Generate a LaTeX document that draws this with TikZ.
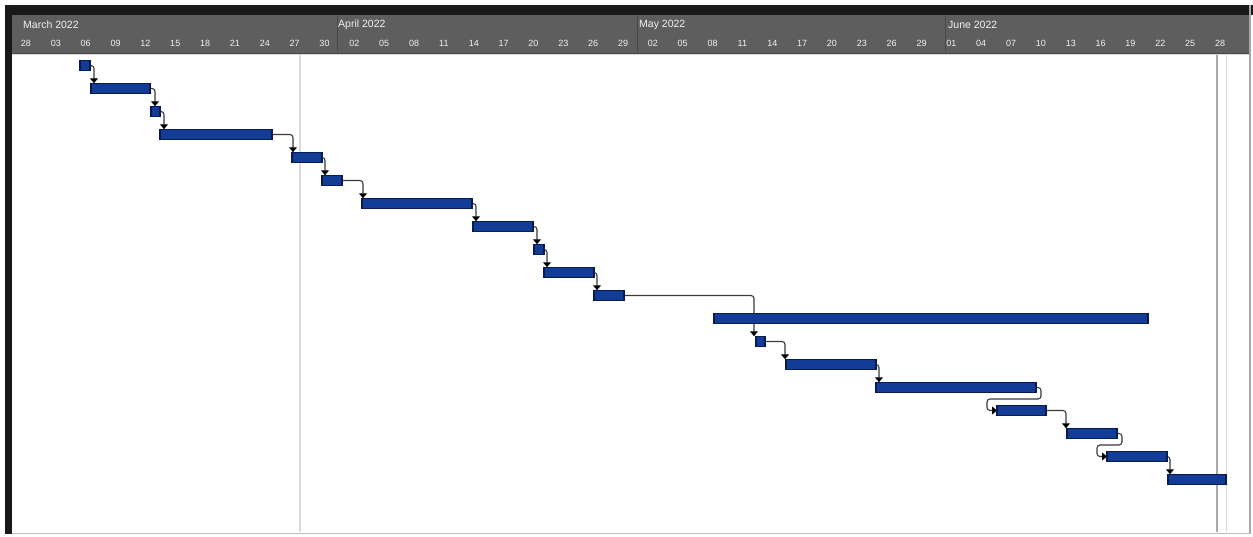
\documentclass[tikz,border=0pt]{standalone}
\usepackage{fontspec}
\setmainfont{Liberation Sans}
\usetikzlibrary{arrows.meta}
\pgfdeclarelayer{bg}
\pgfsetlayers{bg,main}
\definecolor{hdr}{HTML}{5E5E5E}
\definecolor{hdrline}{HTML}{484848}
\definecolor{hdrtext}{HTML}{F2F2F2}
\definecolor{barblue}{HTML}{123C96}
\definecolor{bardark}{HTML}{081A52}
\definecolor{linkgray}{HTML}{3A3A3A}
\definecolor{gridgray}{HTML}{DADADA}
\definecolor{gridmid}{HTML}{A8A8A8}
\tikzset{
  ganttbar/.style={draw=bardark, fill=barblue, line width=1.2pt, minimum height=10.5pt,
    inner sep=0pt, outer sep=0pt, anchor=west},
  link/.style={draw=linkgray, line width=1.1pt, rounded corners=3pt,
    -{Triangle[length=5pt,width=8pt,color=black]}},
  monlab/.style={text=hdrtext, font=\fontsize{10.5}{12}\selectfont, inner sep=0pt, anchor=west},
  daylab/.style={text=hdrtext, font=\fontsize{9}{10}\selectfont, inner sep=0pt},
  gridline/.style={draw=gridgray, line width=1.2pt}
}
\begin{document}
\begin{tikzpicture}[x=1pt,y=-1pt]
\useasboundingbox (0,0) rectangle (1253,536);
\begin{pgfonlayer}{bg}
\fill[white] (0,0) rectangle (1253,536);
\draw[gridline] (300,55) -- (300,532);
\draw[gridmid, line width=1.5pt] (1217,55) -- (1217,532);
\draw[gridgray, line width=1pt] (1226,55) -- (1226,532);
\end{pgfonlayer}
% frame and header
\fill[black!90] (5,5) rectangle (1253,15);
\fill[black!90] (5,5) rectangle (12,534);
\fill[hdr] (12,15) rectangle (1250,53);
\draw[hdrline, line width=1pt] (12,53) -- (1250,53);
\draw[gridgray, line width=1pt] (12,54.5) -- (1250,54.5);
\draw[gray!70, line width=1.5pt] (1250,5) -- (1250,534);
\draw[gray!50, line width=1pt] (12,533) -- (1250,533);
\foreach \m in {337,637,945} \draw[hdrline, line width=0.6pt] (\m,16) -- (\m,52);
% month labels
\node[monlab] (mar) at (23,25) {March 2022};
\node[monlab] (apr) at (338,25) {April 2022};
\node[monlab] (may) at (639,25) {May 2022};
\node[monlab] (jun) at (948,25) {June 2022};
% day labels
\foreach \t [count=\k from 0] in {28,03,06,09,12,15,18,21,24,27,30,02,05,08,11,14,17,20,23,26,29,02,05,08,11,14,17,20,23,26,29,01,04,07,10,13,16,19,22,25,28}
  \node[daylab] (day\k) at ({26+29.85*\k},43) {\t};
% bars
\node[ganttbar, minimum width=10pt]  (b1)  at (80,65.5)   {};
\node[ganttbar, minimum width=59pt]  (b2)  at (91,88.5)   {};
\node[ganttbar, minimum width=9pt]   (b3)  at (151,111.5) {};
\node[ganttbar, minimum width=112pt] (b4)  at (160,134.5) {};
\node[ganttbar, minimum width=30pt]  (b5)  at (292,157.5) {};
\node[ganttbar, minimum width=20pt]  (b6)  at (322,180.5) {};
\node[ganttbar, minimum width=110pt] (b7)  at (362,203.5) {};
\node[ganttbar, minimum width=60pt]  (b8)  at (473,226.5) {};
\node[ganttbar, minimum width=10pt]  (b9)  at (534,249.5) {};
\node[ganttbar, minimum width=50pt]  (b10) at (544,272.5) {};
\node[ganttbar, minimum width=30pt]  (b11) at (594,295.5) {};
\node[ganttbar, minimum width=434pt] (b12) at (714,318.5) {};
\node[ganttbar, minimum width=9pt]   (b13) at (756,341.5) {};
\node[ganttbar, minimum width=90pt]  (b14) at (786,364.5) {};
\node[ganttbar, minimum width=160pt] (b15) at (876,387.5) {};
\node[ganttbar, minimum width=49pt]  (b16) at (997,410.5) {};
\node[ganttbar, minimum width=50pt]  (b17) at (1067,433.5) {};
\node[ganttbar, minimum width=60pt]  (b18) at (1107,456.5) {};
\node[ganttbar, minimum width=58pt]  (b19) at (1168,479.5) {};
% links
\begin{pgfonlayer}{bg}
\draw[link] (b1.east)  -| ([xshift=3pt]b2.north west);
\draw[link] (b2.east)  -| ([xshift=4pt]b3.north west);
\draw[link] (b3.east)  -| ([xshift=4pt]b4.north west);
\draw[link] (b4.east)  -| ([xshift=1pt]b5.north west);
\draw[link] (b5.east)  -| ([xshift=3pt]b6.north west);
\draw[link] (b6.east)  -| ([xshift=1pt]b7.north west);
\draw[link] (b7.east)  -| ([xshift=3pt]b8.north west);
\draw[link] (b8.east)  -| ([xshift=3pt]b9.north west);
\draw[link] (b9.east)  -| ([xshift=3pt]b10.north west);
\draw[link] (b10.east) -| ([xshift=3pt]b11.north west);
\draw[link] (b11.east) -| ([xshift=-2pt]b13.north west);
\draw[link] (b13.east) -| ([xshift=-1pt]b14.north west);
\draw[link] (b14.east) -| ([xshift=3pt]b15.north west);
\draw[link] (b15.east) -- ++(5,0) -- ++(0,11.5) -| ([xshift=-10pt]b16.west) -- (b16.west);
\draw[link] (b16.east) -| ([xshift=-1pt]b17.north west);
\draw[link] (b17.east) -- ++(5,0) -- ++(0,11.5) -| ([xshift=-10pt]b18.west) -- (b18.west);
\draw[link] (b18.east) -| ([xshift=2pt]b19.north west);
\end{pgfonlayer}
\end{tikzpicture}
\end{document}
